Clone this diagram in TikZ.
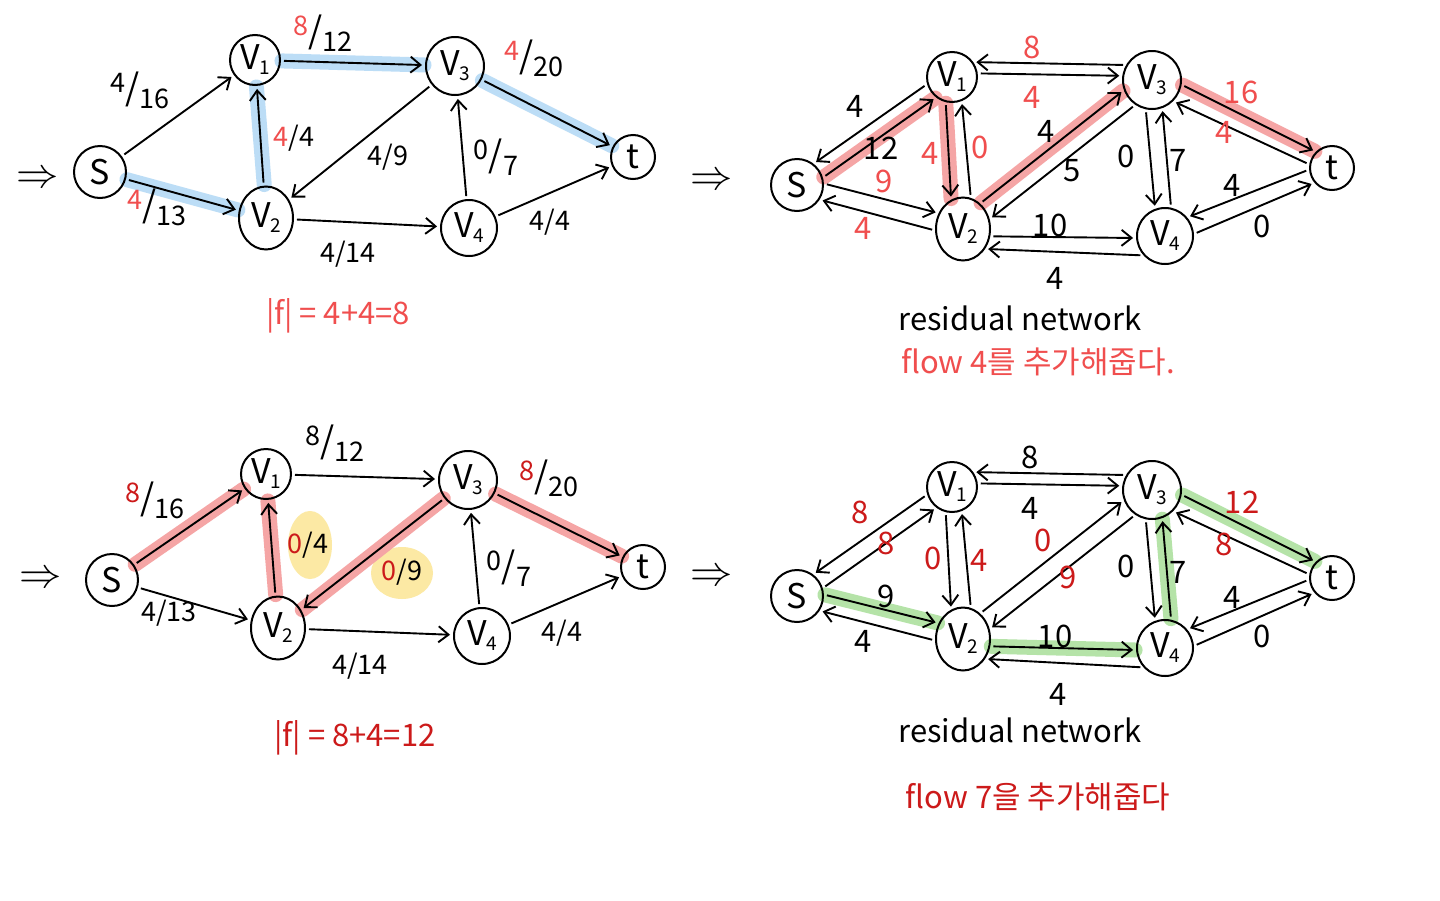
\documentclass[tikz,border=0pt]{standalone}
\usepackage{fontspec}
\setmainfont{Noto Sans CJK KR}
\usetikzlibrary{arrows.meta,calc,backgrounds,shapes.geometric}
\definecolor{lred}{HTML}{F04E4E}
\definecolor{dred}{HTML}{CC1A1A}
\definecolor{hblue}{HTML}{BCDDF6}
\definecolor{hred}{HTML}{F5A5A5}
\definecolor{hgreen}{HTML}{B5E3A8}
\definecolor{hyellow}{HTML}{FCE9A4}
\tikzset{
  vtx/.style={draw, circle, line width=2pt, minimum size=54pt, inner sep=0pt, font=\fontsize{34}{36}\selectfont},
  sv/.style={vtx, minimum size=52pt},
  va/.style={vtx, minimum size=50pt},
  vb/.style={vtx, ellipse, minimum width=54pt, minimum height=63pt},
  vc/.style={vtx, minimum size=58pt},
  vd/.style={vtx, minimum size=56pt},
  tvtx/.style={vtx, minimum size=44pt},
  edge/.style={draw, line width=1.9pt, -{Straight Barb[length=10pt,width=16pt]}, shorten >=3pt, shorten <=3pt},
  lab/.style={font=\fontsize{27}{29}\selectfont, inner sep=0pt},
  rlab/.style={font=\fontsize{31}{33}\selectfont, inner sep=0pt},
  hl/.style={line width=15pt, line cap=round, shorten >=1pt, shorten <=1pt},
  captxt/.style={font=\fontsize{31}{33}\selectfont, inner sep=0pt},
  arr/.style={font=\fontsize{30}{32}\selectfont, inner sep=0pt},
}
\newcommand{\vsub}[1]{V\kern-1pt\raisebox{-5pt}{\fontsize{19}{19}\selectfont #1}}
\newcommand{\fr}[2]{\raisebox{8pt}{#1}{\fontsize{36}{36}\selectfont /}\raisebox{-8pt}{#2}}
\newcommand{\dbl}{\scalebox{1.7}{$\Rightarrow$}}
\newcommand{\redge}[4][]{\draw[edge,#1] let \p1=($(#3)-(#2)$), \n1={atan2(\y1,\x1)+360+(#4)}, \n2={atan2(\y1,\x1)+540-(#4)} in (#2.\n1) -- (#3.\n2);}
\newcommand{\hedge}[4]{\begin{pgfonlayer}{background}\draw[hl,#1] let \p1=($(#3)-(#2)$), \n1={atan2(\y1,\x1)+360+(#4)}, \n2={atan2(\y1,\x1)+540-(#4)} in (#2.\n1) -- (#3.\n2);\end{pgfonlayer}}
\newcommand{\hab}[3]{\begin{pgfonlayer}{background}\draw[hl,#1] (#2) -- (#3);\end{pgfonlayer}}
\begin{document}
\begin{tikzpicture}[x=1pt,y=-1pt]
\useasboundingbox (0,0) rectangle (1440,900);
\begin{pgfonlayer}{background}
\fill[white] (0,0) rectangle (1440,900);
\end{pgfonlayer}

% ---------------- Panel 1 ----------------
\node[arr] (Aar) at (38,180) {\dbl};
\node[sv] (As) at (100,172) {S};
\node[va] (A1) at (255,60) {\vsub{1}};
\node[vb] (A2) at (266,218) {\vsub{2}};
\node[vc] (A3) at (455,66) {\vsub{3}};
\node[vd] (A4) at (469,228) {\vsub{4}};
\node[tvtx] (At) at (633,157) {t};
\hedge{hblue}{As}{A2}{0}
\hedge{hblue}{A2}{A1}{0}
\hedge{hblue}{A1}{A3}{0}
\hedge{hblue}{A3}{At}{0}
\draw[edge] (As) -- (A1);
\draw[edge] (As) -- (A2);
\draw[edge] (A2) -- (A1);
\draw[edge] (A1) -- (A3);
\draw[edge] (A3) -- (A2);
\draw[edge] (A2) -- (A4);
\draw[edge] (A4) -- (A3);
\draw[edge] (A3) -- (At);
\draw[edge] (A4) -- (At);
\node[lab] (Al1) at (140,90) {\fr{4}{16}};
\node[lab] (Al2) at (157,207) {\fr{\textcolor{lred}{4}}{13}};
\node[lab] (Al3) at (294,138) {\textcolor{lred}{4}/4};
\node[lab] (Al4) at (323,33) {\fr{\textcolor{lred}{8}}{12}};
\node[lab] (Al5) at (534,58) {\fr{\textcolor{lred}{4}}{20}};
\node[lab] (Al6) at (388,157) {4/9};
\node[lab] (Al7) at (496,157) {\fr{0}{7}};
\node[lab] (Al8) at (348,254) {4/14};
\node[lab] (Al9) at (550,222) {4/4};
\node[captxt,text=lred] (Af) at (338,316) {|f| = 4+4=8};

% ---------------- Panel 2 ----------------
\node[arr] (Bar) at (712,182) {\dbl};
\node[sv] (Bs) at (797,185) {S};
\node[va] (B1) at (952,77) {\vsub{1}};
\node[vb] (B2) at (963,229) {\vsub{2}};
\node[vc] (B3) at (1152,80) {\vsub{3}};
\node[vd] (B4) at (1165,236) {\vsub{4}};
\node[tvtx] (Bt) at (1332,168) {t};
\hedge{hred}{Bs}{B1}{-18}
\hedge{hred}{B1}{B2}{-18}
\hedge{hred}{B2}{B3}{18}
\hedge{hred}{B3}{Bt}{18}
\redge{B1}{Bs}{-18}
\redge{Bs}{B1}{-18}
\redge{Bs}{B2}{18}
\redge{B2}{Bs}{18}
\redge{B1}{B2}{-18}
\redge{B2}{B1}{-18}
\draw[edge] (B3.150) -- (B1.35);
\draw[edge] (B1.8) -- (B3.172);
\redge{B2}{B3}{18}
\redge{B3}{B2}{18}
\redge{B3}{B4}{-16}
\redge{B4}{B3}{-16}
\redge{B3}{Bt}{18}
\redge{Bt}{B3}{18}
\redge{Bt}{B4}{-18}
\redge{B4}{Bt}{-18}
\draw[edge] (B2.-15) -- (B4.184);
\draw[edge] (B4.222) -- (B2.-42);
\node[rlab,text=lred] (Bl1) at (1032,47) {8};
\node[rlab,text=lred] (Bl2) at (1032,97) {4};
\node[rlab] (Bl3) at (855,106) {4};
\node[rlab] (Bl4) at (881,148) {12};
\node[rlab,text=lred] (Bl5) at (884,181) {9};
\node[rlab,text=lred] (Bl6) at (863,228) {4};
\node[rlab,text=lred] (Bl7) at (930,153) {4};
\node[rlab,text=lred] (Bl8) at (980,147) {0};
\node[rlab] (Bl9) at (1046,131) {4};
\node[rlab] (Bl10) at (1072,171) {5};
\node[rlab] (Bl11) at (1126,156) {0};
\node[rlab] (Bl12) at (1178,160) {7};
\node[rlab,text=lred] (Bl13) at (1241,92) {16};
\node[rlab,text=lred] (Bl14) at (1224,132) {4};
\node[rlab] (Bl15) at (1232,185) {4};
\node[rlab] (Bl16) at (1262,226) {0};
\node[rlab] (Bl17) at (1050,225) {10};
\node[rlab] (Bl18) at (1055,278) {4};
\node[captxt] (Bc) at (1020,318) {residual network};
\node[captxt,text=lred] (Bf) at (1038,362) {flow 4를 추가해줍다.};

% ---------------- Panel 3 ----------------
\node[arr] (Car) at (41,580) {\dbl};
\node[sv] (Cs) at (112,580) {S};
\node[va] (C1) at (266,474) {\vsub{1}};
\node[vb] (C2) at (278,628) {\vsub{2}};
\node[vc] (C3) at (468,480) {\vsub{3}};
\node[vd] (C4) at (482,636) {\vsub{4}};
\node[tvtx] (Ct) at (643,567) {t};
\begin{pgfonlayer}{background}
\fill[hyellow] (310,545) ellipse [x radius=22, y radius=34];
\fill[hyellow] (402,573) ellipse [x radius=31, y radius=26];
\end{pgfonlayer}
\hedge{hred}{Cs}{C1}{0}
\hedge{hred}{C2}{C1}{0}
\hedge{hred}{C3}{C2}{0}
\hedge{hred}{C3}{Ct}{0}
\draw[edge] (Cs) -- (C1);
\draw[edge] (Cs) -- (C2);
\draw[edge] (C2) -- (C1);
\draw[edge] (C1) -- (C3);
\draw[edge] (C3) -- (C2);
\draw[edge] (C2) -- (C4);
\draw[edge] (C4) -- (C3);
\draw[edge] (C3) -- (Ct);
\draw[edge] (C4) -- (Ct);
\node[lab] (Cl1) at (155,500) {\fr{\textcolor{dred}{8}}{16}};
\node[lab] (Cl2) at (169,613) {4/13};
\node[lab] (Cl3) at (335,443) {\fr{8}{12}};
\node[lab] (Cl4) at (308,545) {\textcolor{dred}{0}/4};
\node[lab] (Cl5) at (402,572) {\textcolor{dred}{0}/9};
\node[lab] (Cl6) at (549,478) {\fr{\textcolor{dred}{8}}{20}};
\node[lab] (Cl7) at (509,568) {\fr{0}{7}};
\node[lab] (Cl8) at (360,666) {4/14};
\node[lab] (Cl9) at (562,633) {4/4};
\node[captxt,text=dred] (Cf) at (355,738) {|f| = 8+4=12};

% ---------------- Panel 4 ----------------
\node[arr] (Dar) at (712,578) {\dbl};
\node[sv] (Ds) at (797,596) {S};
\node[va] (D1) at (952,487) {\vsub{1}};
\node[vb] (D2) at (963,639) {\vsub{2}};
\node[vc] (D3) at (1152,490) {\vsub{3}};
\node[vd] (D4) at (1165,648) {\vsub{4}};
\node[tvtx] (Dt) at (1332,578) {t};
\hedge{hgreen}{Ds}{D2}{18}
\hab{hgreen}{D2.-15}{D4.184}
\hedge{hgreen}{D4}{D3}{-16}
\hedge{hgreen}{D3}{Dt}{18}
\redge{D1}{Ds}{-18}
\redge{Ds}{D1}{-18}
\redge{Ds}{D2}{18}
\redge{D2}{Ds}{18}
\redge{D1}{D2}{-18}
\redge{D2}{D1}{-18}
\draw[edge] (D3.150) -- (D1.35);
\draw[edge] (D1.8) -- (D3.172);
\redge{D2}{D3}{18}
\redge{D3}{D2}{18}
\redge{D3}{D4}{-16}
\redge{D4}{D3}{-16}
\redge{D3}{Dt}{18}
\redge{Dt}{D3}{18}
\redge{Dt}{D4}{-18}
\redge{D4}{Dt}{-18}
\draw[edge] (D2.-15) -- (D4.184);
\draw[edge] (D4.222) -- (D2.-42);
\node[rlab,text=dred] (Dl1) at (860,512) {8};
\node[rlab,text=dred] (Dl2) at (886,543) {8};
\node[rlab] (Dl3) at (886,596) {9};
\node[rlab] (Dl4) at (863,641) {4};
\node[rlab,text=dred] (Dl5) at (933,558) {0};
\node[rlab,text=dred] (Dl6) at (979,560) {4};
\node[rlab] (Dl7) at (1030,457) {8};
\node[rlab] (Dl8) at (1030,508) {4};
\node[rlab,text=dred] (Dl9) at (1043,540) {0};
\node[rlab,text=dred] (Dl10) at (1068,577) {9};
\node[rlab] (Dl11) at (1126,566) {0};
\node[rlab] (Dl12) at (1178,572) {7};
\node[rlab,text=dred] (Dl13) at (1242,502) {12};
\node[rlab,text=dred] (Dl14) at (1224,544) {8};
\node[rlab] (Dl15) at (1232,597) {4};
\node[rlab] (Dl16) at (1262,636) {0};
\node[rlab] (Dl17) at (1055,636) {10};
\node[rlab] (Dl18) at (1058,694) {4};
\node[captxt] (Dc) at (1020,730) {residual network};
\node[captxt,text=dred] (Df) at (1038,797) {flow 7을 추가해줍다};
\end{tikzpicture}
\end{document}
